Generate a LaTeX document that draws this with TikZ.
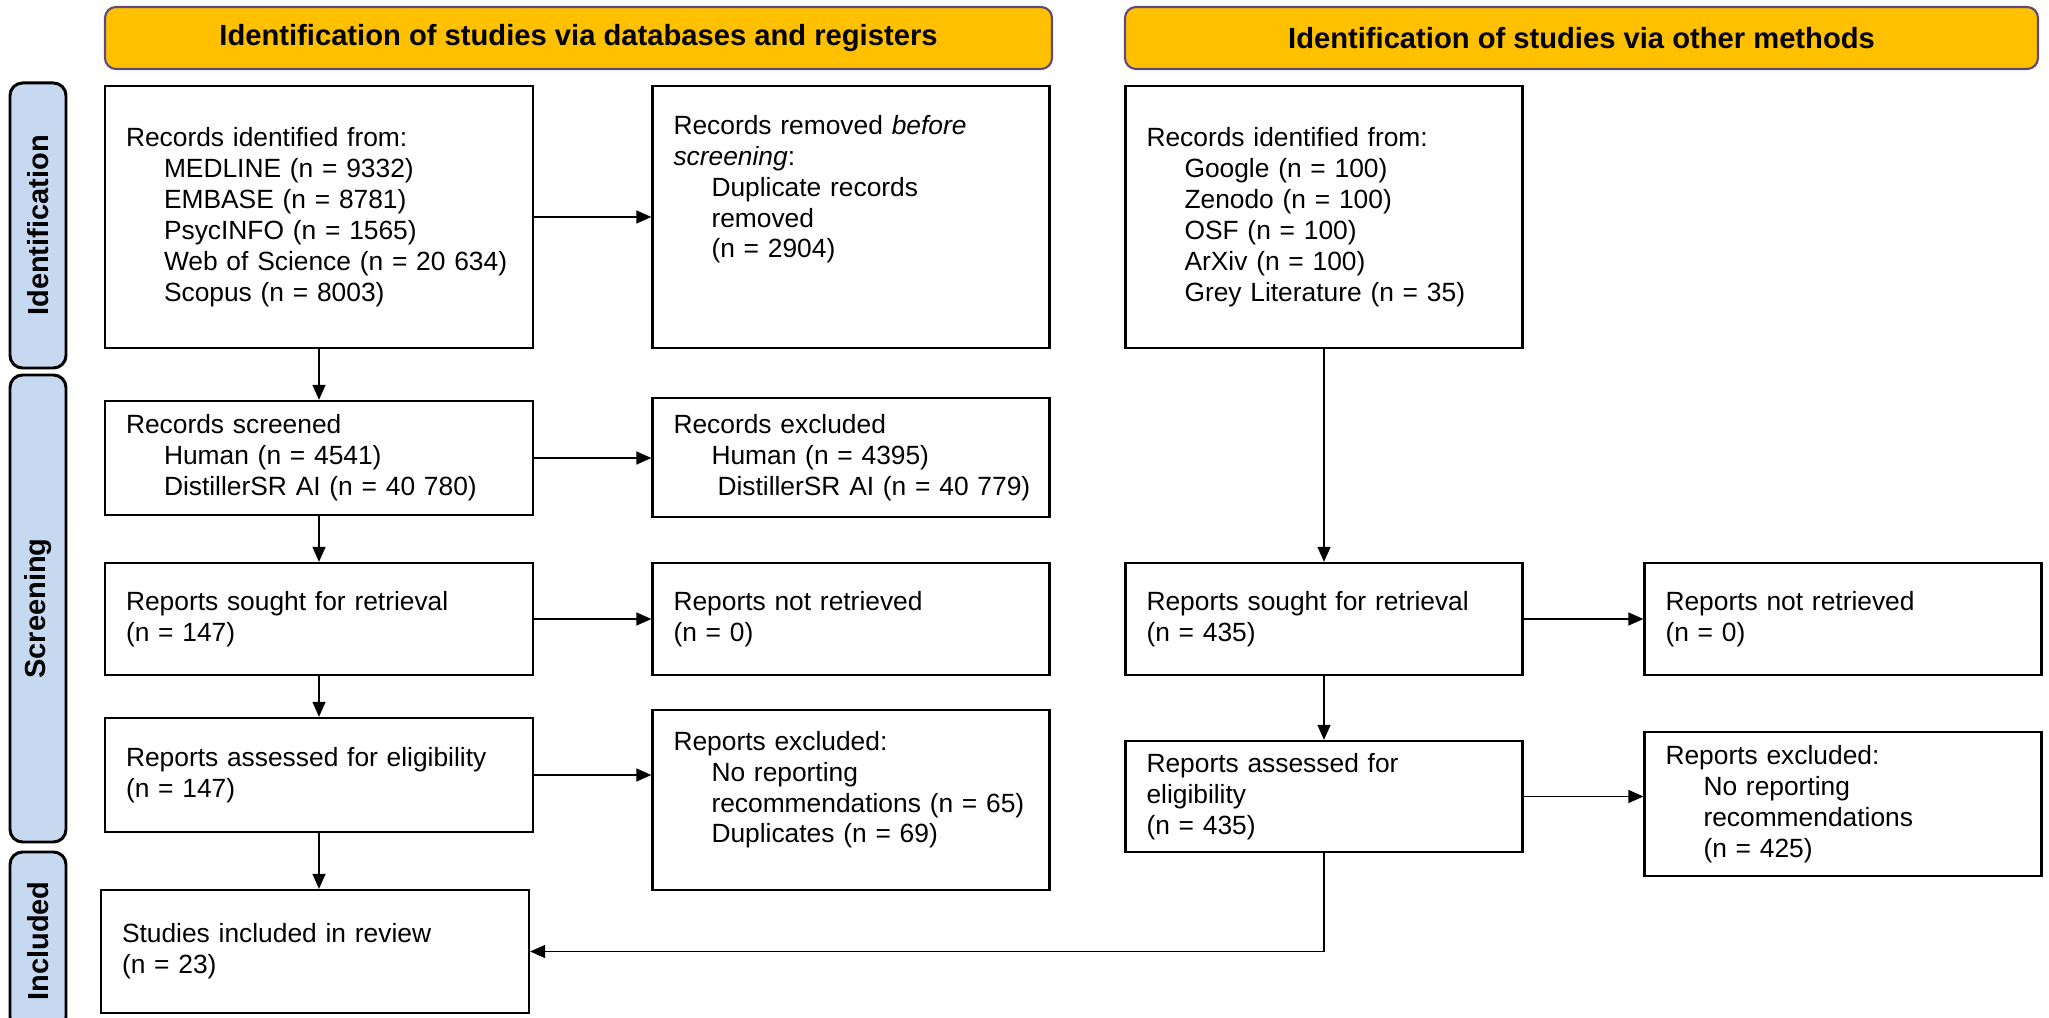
\documentclass[tikz,border=0pt]{standalone}
\usepackage{fontspec}
\setmainfont{Liberation Sans}
\usetikzlibrary{arrows.meta}

\definecolor{headgold}{RGB}{255,192,0}
\definecolor{headline}{RGB}{95,73,122}
\definecolor{phaseblue}{RGB}{198,217,241}

\begin{document}
\begin{tikzpicture}[
		every node/.style={
			rectangle,
			draw,
			line width=1.3pt,
			align=left,
			inner xsep=0.42cm,
			font=\fontsize{15}{17.6}\selectfont
		},
		banner/.style={
			draw=headline,
			fill=headgold,
			line width=1.2pt,
			rounded corners=0.22cm,
			align=center,
			minimum height=1.24cm,
			font=\fontsize{16.6}{20}\selectfont\bfseries
		},
		phase/.style={
			rotate=90,
			draw=black,
			fill=phaseblue,
			line width=1.7pt,
			rounded corners=0.25cm,
			align=center,
			inner sep=0pt,
			minimum height=1.12cm,
			font=\fontsize{16.5}{20}\selectfont\bfseries
		},
		widebox/.style={text width=7.72cm},
		narrowbox/.style={text width=7.10cm},
		>={Triangle[length=0.3cm,width=0.26cm]},
		flow/.style={->, line width=0.75pt}]

		\useasboundingbox (0,0) rectangle (40.98,20.34);

		%headers
		\node[banner, minimum width=18.94cm] at (11.57,19.58) (dbhead)
			{Identification of studies via databases and registers};
		\node[banner, minimum width=18.26cm] at (31.63,19.58) (otherhead)
			{Identification of studies via other methods};

		\node[phase, minimum width=5.70cm] at (0.76,15.83) (ident) {Identification};
		\node[phase, minimum width=9.34cm] at (0.76,8.17) (screen) {Screening};
		\node[phase, minimum width=3.56cm] at (0.76,1.52) (incl) {Included};

		%databases and registers
		\node[widebox, minimum height=5.24cm] at (6.38,16.00) (dbrec)
			{Records identified from:\\
			\hspace*{0.76cm}MEDLINE (n = 9332)\\
			\hspace*{0.76cm}EMBASE (n = 8781)\\
			\hspace*{0.76cm}PsycINFO (n = 1565)\\
			\hspace*{0.76cm}Web of Science (n = 20 634)\\
			\hspace*{0.76cm}Scopus (n = 8003)};

		\node[narrowbox, minimum height=5.24cm, right of=dbrec, node distance=10.64cm] (dbremoved)
			{Records removed \textit{before}\\
			\textit{screening}:\\
			\hspace*{0.76cm}Duplicate records\\
			\hspace*{0.76cm}removed\\
			\hspace*{0.76cm}(n = 2904)\\[0.6cm]\mbox{}};

		\node[widebox, minimum height=2.28cm, below of=dbrec, node distance=4.82cm] (screened)
			{Records screened\\
			\hspace*{0.76cm}Human (n = 4541)\\
			\hspace*{0.76cm}DistillerSR AI (n = 40 780)};

		\node[narrowbox, minimum height=2.38cm] at (17.02,11.19) (screenexcl)
			{Records excluded\\
			\hspace*{0.76cm}Human (n = 4395)\\
			\mbox{\hspace*{0.88cm}DistillerSR AI (n = 40 779)}};

		\node[widebox, minimum height=2.24cm, below of=screened, node distance=3.22cm] (dbsought)
			{Reports sought for retrieval\\(n = 147)};
		\node[narrowbox, minimum height=2.24cm, right of=dbsought, node distance=10.64cm] (dbnotret)
			{Reports not retrieved\\(n = 0)};

		\node[widebox, minimum height=2.28cm, below of=dbsought, node distance=3.12cm] (dbassessed)
			{Reports assessed for eligibility\\(n = 147)};
		\node[narrowbox, minimum height=3.60cm] at (17.02,4.34) (dbexcl)
			{Reports excluded:\\
			\hspace*{0.76cm}No reporting\\
			\mbox{\hspace*{0.76cm}recommendations (n = 65)}\\
			\hspace*{0.76cm}Duplicates (n = 69)\\[-0.1cm]\mbox{}};

		\node[widebox, minimum height=2.46cm] at (6.30,1.31) (included)
			{Studies included in review\\(n = 23)};

		%other methods
		\node[narrowbox, minimum height=5.24cm] at (26.48,16.00) (otherrec)
			{Records identified from:\\
			\hspace*{0.76cm}Google (n = 100)\\
			\hspace*{0.76cm}Zenodo (n = 100)\\
			\hspace*{0.76cm}OSF (n = 100)\\
			\hspace*{0.76cm}ArXiv (n = 100)\\
			\hspace*{0.76cm}Grey Literature (n = 35)};

		\node[narrowbox, minimum height=2.24cm] at (26.48,7.96) (othersought)
			{Reports sought for retrieval\\(n = 435)};
		\node[narrowbox, minimum height=2.24cm, right of=othersought, node distance=10.38cm] (othernotret)
			{Reports not retrieved\\(n = 0)};

		\node[narrowbox, minimum height=2.22cm] at (26.48,4.41) (otherassessed)
			{Reports assessed for\\eligibility\\(n = 435)};
		\node[narrowbox, minimum height=2.88cm] at (36.86,4.26) (otherexcl)
			{Reports excluded:\\
			\hspace*{0.76cm}No reporting\\
			\hspace*{0.76cm}recommendations\\
			\hspace*{0.76cm}(n = 425)};

		%arrows
		\draw[flow] (dbrec) -- (dbremoved);
		\draw[flow] (dbrec) -- (screened);
		\draw[flow] (screened.east) -- (screened.east -| screenexcl.west);
		\draw[flow] (screened) -- (dbsought);
		\draw[flow] (dbsought) -- (dbnotret);
		\draw[flow] (dbsought) -- (dbassessed);
		\draw[flow] (dbassessed.east) -- (dbassessed.east -| dbexcl.west);
		\draw[flow] (dbassessed.south) -- (dbassessed.south |- included.north);

		\draw[flow] (otherrec) -- (othersought);
		\draw[flow] (othersought) -- (othernotret);
		\draw[flow] (othersought) -- (otherassessed);
		\draw[flow] (otherassessed.east) -- (otherassessed.east -| otherexcl.west);
		\draw[flow] (otherassessed.south) |- (included.east);

	\end{tikzpicture}
\end{document}
